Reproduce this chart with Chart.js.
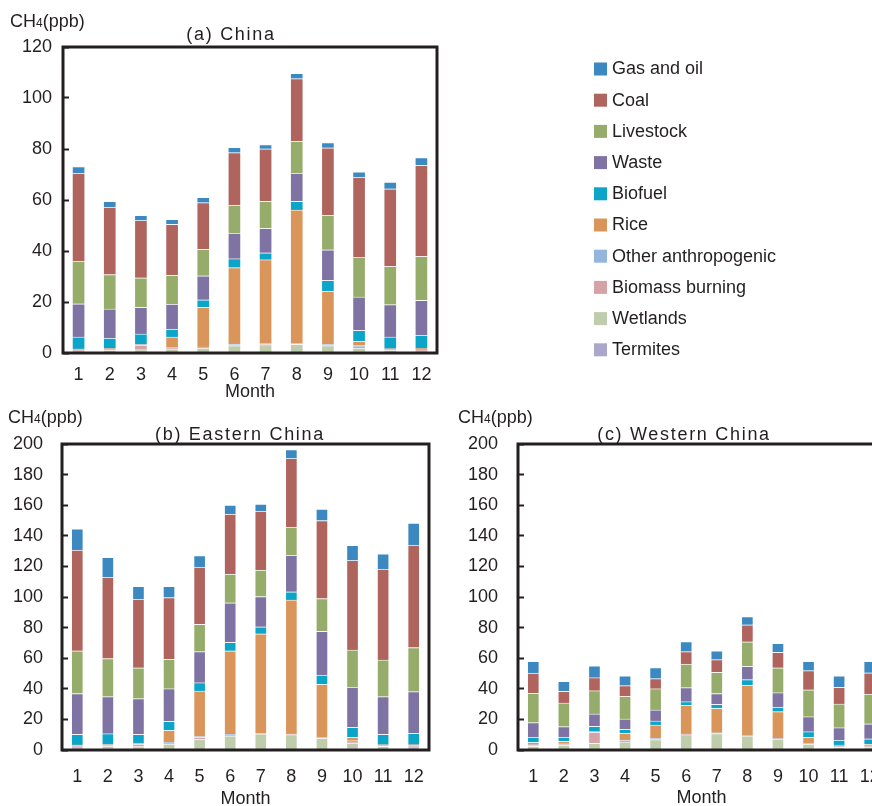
<!DOCTYPE html>
<html>
<head>
<meta charset="utf-8">
<script src="https://cdn.jsdelivr.net/npm/chart.js@4.4.1/dist/chart.umd.min.js"></script>
<style>
  html, body { margin: 0; padding: 0; background: #fff; overflow: hidden; }
  body { position: relative; width: 872px; height: 806px; }
  canvas { position: absolute; }
</style>
</head>
<body>
<canvas id="chartA" width="872" height="410" style="left:0;top:0"></canvas>
<canvas id="chartB" width="440" height="420" style="left:0;top:400px"></canvas>
<canvas id="chartC" width="460" height="420" style="left:440px;top:400px"></canvas>
<script>
const months = ['1', '2', '3', '4', '5', '6', '7', '8', '9', '10', '11', '12'];

// stacking order, bottom to top
const sources = ['Termites', 'Wetlands', 'Biomass burning', 'Other anthropogenic', 'Rice',
                 'Biofuel', 'Waste', 'Livestock', 'Coal', 'Gas and oil'];
const sourceColors = ['#a9a7cb', '#bfcdac', '#d5a3a6', '#93b6dc', '#da955b',
                      '#0aa5c8', '#7e73a2', '#95ac6a', '#b0645e', '#3c88c0'];

// (a) China
const chinaTermites = [0.4, 0.4, 0.3, 0.2, 0.3, 0.4, 0.3, 0.3, 0.4, 0.7, 0.4, 0.4];
const chinaWetlands = [0.5, 0.6, 1.0, 1.4, 1.5, 2.5, 3.0, 3.1, 2.5, 1.2, 0.6, 0.5];
const chinaBiomass  = [0.3, 0.3, 1.8, 0.3, 0.3, 0.3, 0.2, 0.2, 0.3, 0.6, 0.3, 0.3];
const chinaOther    = [0.3, 0.4, 0.2, 0.3, 0.3, 0.3, 0.2, 0.2, 0.2, 0.4, 0.3, 0.4];
const chinaRice     = [0.1, 0.1, 0.1, 4.1, 15.5, 30.0, 32.9, 52.3, 20.9, 1.7, 0.1, 0.2];
const chinaBiofuel  = [4.7, 4.1, 4.1, 3.1, 3.0, 3.5, 2.7, 3.4, 4.2, 4.3, 4.6, 5.1];
const chinaWaste    = [13.0, 11.4, 10.4, 9.8, 9.4, 10.0, 9.6, 11.1, 12.0, 13.1, 12.7, 13.8];
const chinaLivestock = [16.7, 13.5, 11.6, 11.3, 10.4, 11.0, 10.6, 12.4, 13.5, 15.5, 15.0, 17.2];
const chinaCoal     = [34.6, 26.3, 22.5, 20.0, 18.3, 20.6, 20.6, 24.6, 26.5, 31.5, 30.4, 35.7];
const chinaGasOil   = [2.5, 2.4, 2.0, 1.9, 2.0, 2.1, 1.6, 2.1, 2.0, 2.0, 2.6, 3.0];

// (b) Eastern China
const eastTermites = [1.2, 1.0, 0.3, 0.5, 0.5, 0.5, 0.5, 0.4, 0.3, 1.3, 0.8, 1.4];
const eastWetlands = [1.0, 1.5, 2.0, 3.3, 6.7, 8.8, 10.0, 9.7, 7.4, 3.0, 1.6, 0.8];
const eastBiomass  = [0.5, 0.6, 1.5, 0.8, 1.2, 0.6, 0.3, 0.2, 0.3, 1.0, 0.5, 0.5];
const eastOther    = [0.4, 0.5, 0.5, 0.6, 0.5, 0.4, 0.3, 0.2, 0.3, 0.8, 0.4, 0.5];
const eastRice     = [0.2, 0.3, 0.3, 7.7, 29.7, 54.5, 64.8, 87.6, 34.7, 2.2, 0.2, 0.3];
const eastBiofuel  = [7.0, 6.8, 5.7, 5.9, 5.4, 5.6, 4.6, 5.3, 5.9, 6.5, 6.8, 7.4];
const eastWaste    = [26.6, 24.2, 23.3, 21.3, 20.3, 25.8, 19.8, 23.8, 28.7, 26.4, 24.6, 27.3];
const eastLivestock = [27.9, 24.9, 20.1, 19.2, 17.9, 18.8, 17.3, 18.5, 21.4, 24.2, 24.0, 28.8];
const eastCoal     = [65.8, 53.0, 44.7, 40.4, 37.3, 39.2, 38.6, 44.9, 51.0, 58.5, 59.3, 66.9];
const eastGasOil   = [14.0, 13.2, 8.6, 7.3, 7.5, 5.8, 4.5, 5.7, 7.5, 9.8, 10.0, 14.4];

// (c) Western China
const westTermites = [0.4, 0.4, 0.4, 0.4, 0.4, 0.4, 0.4, 0.4, 0.4, 0.4, 0.4, 0.4];
const westWetlands = [2.0, 2.6, 4.0, 5.0, 6.4, 9.6, 10.4, 8.9, 6.7, 3.4, 1.4, 1.5];
const westBiomass  = [0.8, 0.8, 7.1, 0.8, 0.5, 0.3, 0.3, 0.3, 0.3, 0.5, 0.5, 0.5];
const westOther    = [0.3, 0.3, 0.3, 0.3, 0.3, 0.2, 0.2, 0.2, 0.2, 0.3, 0.3, 0.3];
const westRice     = [1.5, 1.6, 0.6, 4.6, 8.8, 18.7, 16.0, 32.7, 17.5, 3.7, 0.7, 1.1];
const westBiofuel  = [3.5, 2.8, 3.1, 2.4, 2.6, 2.4, 2.6, 3.5, 3.0, 3.7, 3.2, 3.5];
const westWaste    = [9.4, 6.8, 8.1, 6.8, 7.2, 9.2, 7.0, 8.7, 9.4, 9.8, 8.1, 9.8];
const westLivestock = [19.2, 15.5, 15.2, 14.8, 13.9, 15.3, 13.9, 16.0, 16.2, 17.5, 15.5, 19.4];
const westCoal     = [13.1, 7.6, 8.5, 7.0, 6.6, 8.2, 8.3, 11.1, 10.2, 12.6, 10.9, 14.0];
const westGasOil   = [7.8, 6.5, 7.7, 6.3, 7.2, 6.6, 5.7, 5.4, 5.9, 6.1, 7.4, 7.4];

const chinaSeries = [chinaTermites, chinaWetlands, chinaBiomass, chinaOther, chinaRice,
                     chinaBiofuel, chinaWaste, chinaLivestock, chinaCoal, chinaGasOil];
const eastSeries = [eastTermites, eastWetlands, eastBiomass, eastOther, eastRice,
                    eastBiofuel, eastWaste, eastLivestock, eastCoal, eastGasOil];
const westSeries = [westTermites, westWetlands, westBiomass, westOther, westRice,
                    westBiofuel, westWaste, westLivestock, westCoal, westGasOil];

const ink = '#231f20';
const family = "'Liberation Sans', Arial, sans-serif";

// thick box around the plot area
const framePlugin = {
    id: 'frame',
    afterDraw(chart) {
        const {ctx, chartArea: a} = chart;
        ctx.save();
        ctx.strokeStyle = ink;
        ctx.lineWidth = 3;
        ctx.strokeRect(a.left, a.top, a.right - a.left, a.bottom - a.top);
        ctx.restore();
    }
};

// panel title + CH4(ppb) unit label
const panelText = {
    id: 'panelText',
    afterDraw(chart, args, o) {
        const ctx = chart.ctx;
        ctx.save();
        ctx.fillStyle = ink;
        ctx.textBaseline = 'middle';

        ctx.font = `18px ${family}`;
        ctx.letterSpacing = '1.7px';
        ctx.textAlign = 'center';
        ctx.fillText(o.title, o.titleX, o.titleY);
        ctx.letterSpacing = '0px';

        ctx.textAlign = 'left';
        let x = o.unitX;
        ctx.fillText('CH', x, o.unitY);
        x += ctx.measureText('CH').width;
        ctx.font = `12px ${family}`;
        ctx.fillText('4', x, o.unitY + 2);
        x += ctx.measureText('4').width;
        ctx.font = `18px ${family}`;
        ctx.fillText('(ppb)', x, o.unitY);
        ctx.restore();
    }
};

// legend list to the right of panel (a), Gas and oil on top
const sideLegend = {
    id: 'sideLegend',
    afterDraw(chart, args, o) {
        const ctx = chart.ctx;
        const sets = chart.data.datasets.slice().reverse();
        ctx.save();
        ctx.font = `18px ${family}`;
        ctx.textBaseline = 'middle';
        ctx.textAlign = 'left';
        sets.forEach((ds, i) => {
            const y = o.y + i * o.gap;
            ctx.fillStyle = ds.backgroundColor;
            ctx.fillRect(o.x, y - 6.5, 13, 13);
            ctx.fillStyle = ink;
            ctx.fillText(ds.label, o.x + 18, y + 0.5);
        });
        ctx.restore();
    }
};

const makeDatasets = (series, barWidth) => series.map((data, i) => ({
    label: sources[i],
    data: data,
    backgroundColor: sourceColors[i],
    borderColor: 'rgba(255,255,255,0.35)',
    borderWidth: 1,
    barThickness: barWidth
}));

const buildPanel = (id, series, opt, extraPlugins) => {
    return new Chart(document.getElementById(id), {
        type: 'bar',
        data: {
            labels: months,
            datasets: makeDatasets(series, opt.barWidth)
        },
        options: {
            responsive: false,
            animation: false,
            layout: { padding: opt.padding },
            plugins: {
                legend: { display: false },
                tooltip: { enabled: false },
                panelText: opt.text,
                sideLegend: opt.legend || {}
            },
            scales: {
                x: {
                    stacked: true,
                    grid: { display: false, drawTicks: false },
                    border: { display: false },
                    ticks: { padding: opt.xPad, color: ink, font: { size: 18, family: family } },
                    title: {
                        display: true,
                        text: 'Month',
                        color: ink,
                        font: { size: 18, family: family },
                        padding: { top: 0, bottom: opt.monthPad }
                    },
                    afterFit: s => { s.height = opt.xHeight; }
                },
                y: {
                    stacked: true,
                    min: 0,
                    max: opt.yMax,
                    ticks: { stepSize: 20, padding: opt.yPad, color: ink, font: { size: 18, family: family } },
                    grid: {
                        drawOnChartArea: false,
                        drawTicks: true,
                        tickLength: -6,
                        tickWidth: 2,
                        tickColor: ink
                    },
                    border: { display: false },
                    afterFit: s => { s.width = opt.yWidth; }
                }
            }
        },
        plugins: [framePlugin, panelText].concat(extraPlugins || [])
    });
};

buildPanel('chartA', chinaSeries, {
    barWidth: 13,
    padding: { top: 47, left: 0, right: 435, bottom: 0 },
    yMax: 120, yWidth: 63, yPad: 17,
    xHeight: 57, xPad: 11, monthPad: 7,
    text: { title: '(a) China', titleX: 231, titleY: 35, unitX: 10, unitY: 22 },
    legend: { x: 594, y: 69, gap: 31.2 }
}, [sideLegend]);

buildPanel('chartB', eastSeries, {
    barWidth: 12,
    padding: { top: 44, left: 0, right: 7, bottom: 0 },
    yMax: 200, yWidth: 62, yPad: 25,
    xHeight: 70, xPad: 16, monthPad: 10,
    text: { title: '(b) Eastern China', titleX: 240, titleY: 35, unitX: 8, unitY: 18 }
});

buildPanel('chartC', westSeries, {
    barWidth: 12,
    padding: { top: 44, left: 0, right: 15, bottom: 0 },
    yMax: 200, yWidth: 78, yPad: 26,
    xHeight: 70, xPad: 16, monthPad: 11,
    text: { title: '(c) Western China', titleX: 244, titleY: 35, unitX: 18, unitY: 18 }
});
</script>
</body>
</html>
